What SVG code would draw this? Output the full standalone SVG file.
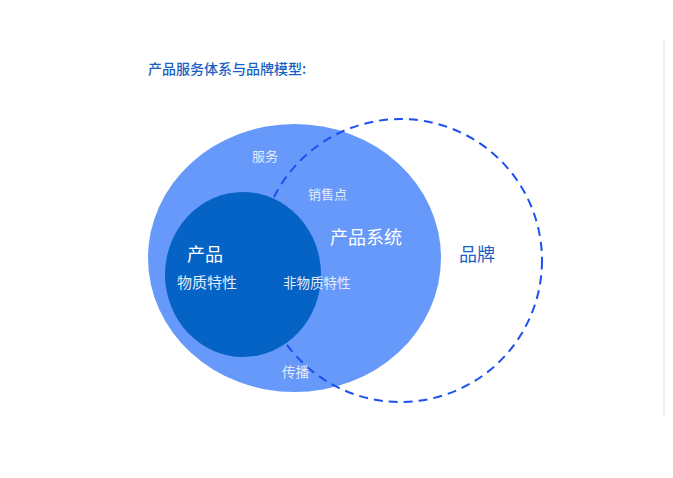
<svg xmlns="http://www.w3.org/2000/svg" width="673" height="478" viewBox="0 0 673 478">
<style>
text{font-family:"Noto Sans CJK SC","Noto Sans",sans-serif}
.lbl{fill:#e4ecfb}
.wht{fill:#ffffff}
.blu{fill:#1a5fc4}
</style>
<rect width="673" height="478" fill="#ffffff"/>
<line x1="664" y1="40" x2="664" y2="417" stroke="#e8e8e8" stroke-width="1.5"/>
<text class="blu" x="148" y="74" font-size="14" font-weight="500">产品服务体系与品牌模型:</text>
<g id="system">
<ellipse cx="294.5" cy="258" rx="146.5" ry="134" fill="#6699fa"/>
</g>
<g id="connectors">
<circle id="brand-circle" cx="400.5" cy="260.5" r="141.5" fill="none" stroke="#1c50f0" stroke-width="2" stroke-dasharray="9 6"/>
</g>
<g id="product">
<ellipse cx="243" cy="274.5" rx="78" ry="82.5" fill="#0563c6"/>
</g>
<g id="labels">
<text class="lbl" x="252" y="161" font-size="13">服务</text>
<text class="lbl" x="308" y="199" font-size="13">销售点</text>
<text class="wht" x="330" y="244" font-size="18">产品系统</text>
<text class="wht" x="187" y="261" font-size="18">产品</text>
<text class="lbl" x="177" y="288" font-size="15">物质特性</text>
<text class="lbl" x="283" y="288" font-size="13.5">非物质特性</text>
<text class="lbl" x="282" y="377" font-size="13.5">传播</text>
</g>
<g id="brand">
<text class="blu" x="459" y="261" font-size="18">品牌</text>
</g>
</svg>
